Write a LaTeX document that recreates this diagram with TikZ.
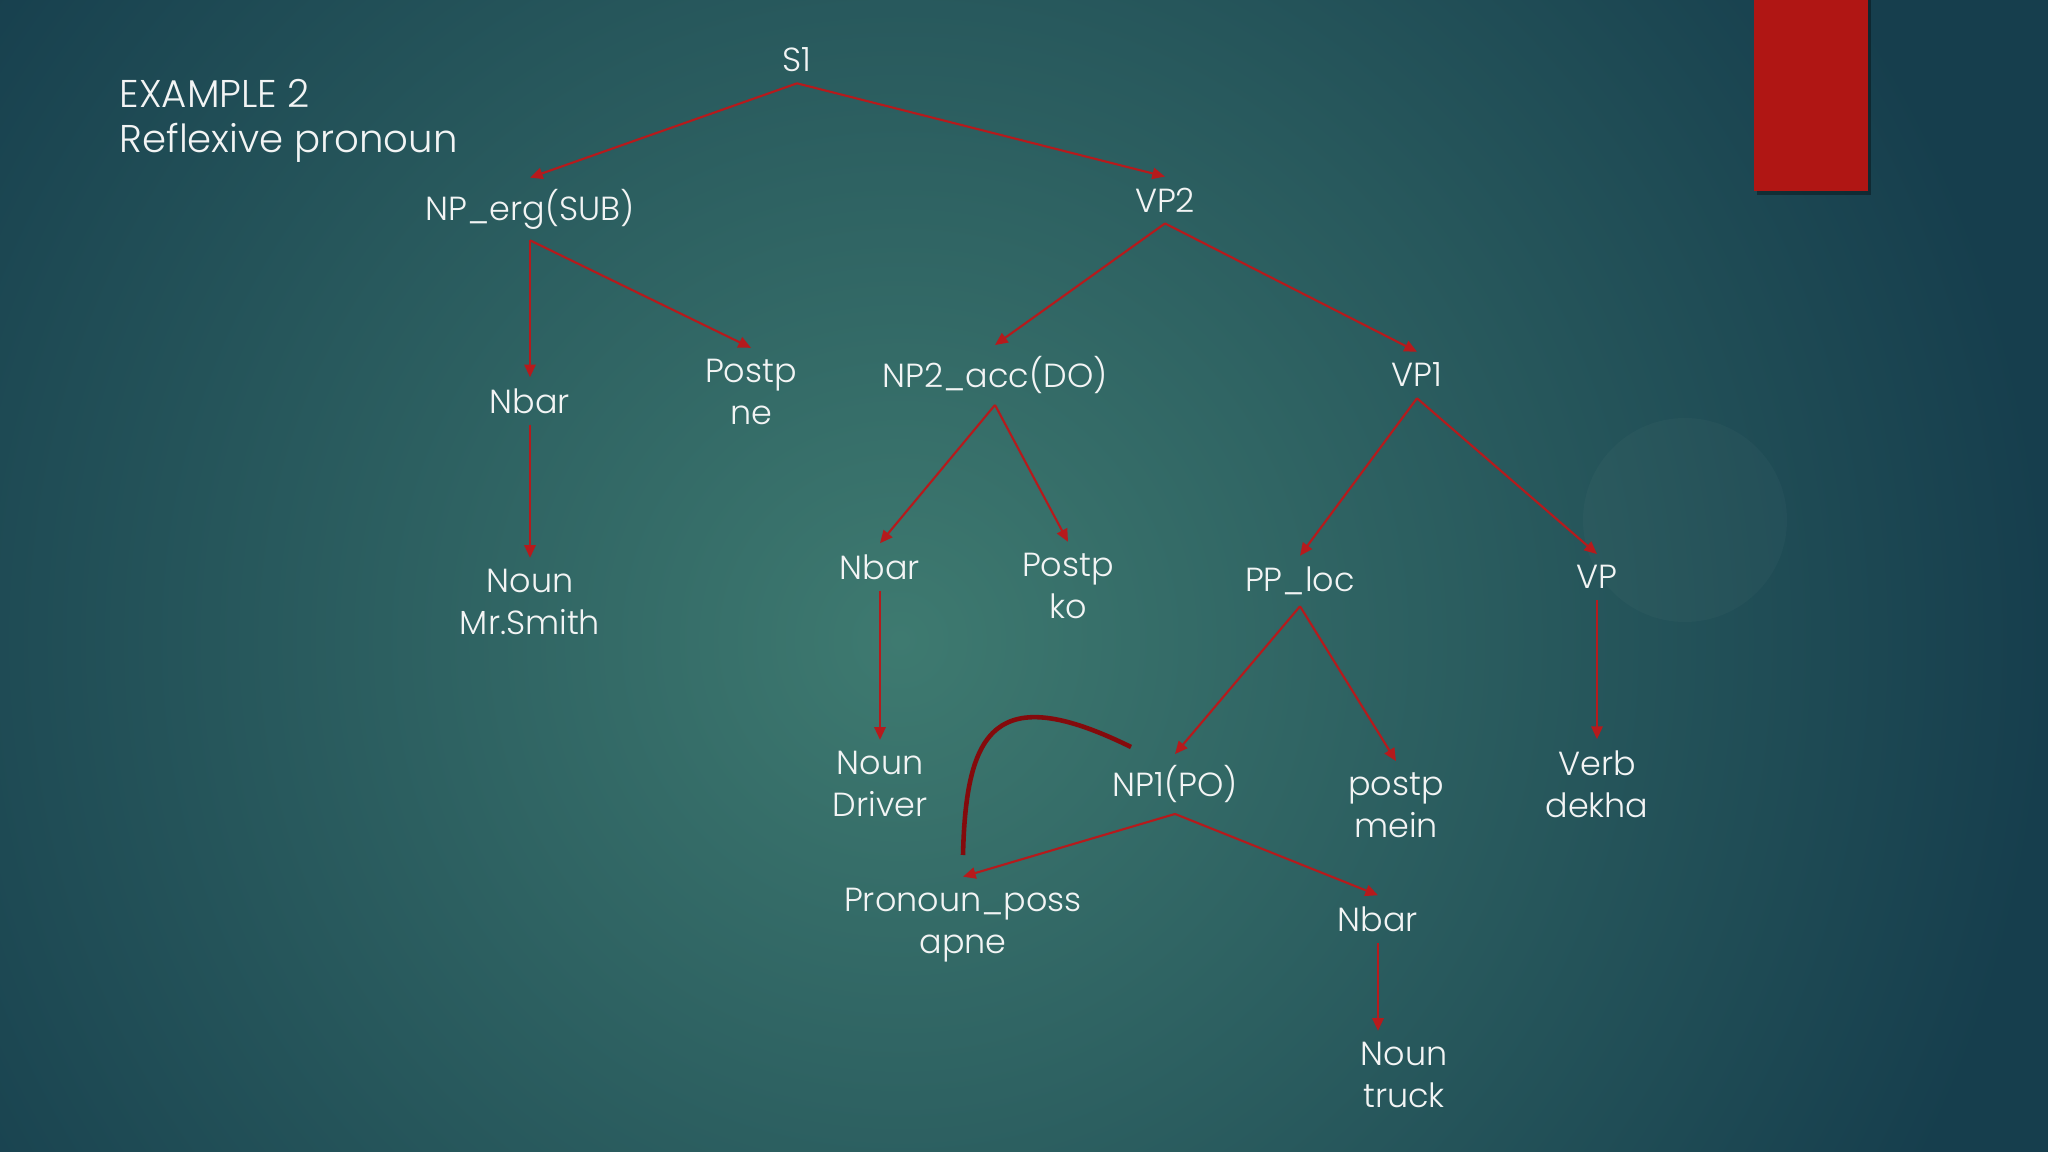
\documentclass[tikz,border=0pt]{standalone}
\usepackage{fontspec}
\setmainfont{Poppins Light}
\usetikzlibrary{arrows.meta}

\definecolor{bgdark}{RGB}{22,62,77}
\definecolor{bglight}{RGB}{62,122,112}
\definecolor{treered}{RGB}{182,26,28}
\definecolor{linkred}{RGB}{132,10,12}
\definecolor{barred}{RGB}{176,22,20}
\definecolor{lbl}{RGB}{242,244,244}

\tikzset{
    lab/.style={text=lbl, font=\fontsize{9.5}{12}\selectfont, align=center, inner sep=3pt},
    arr/.style={draw=treered, line width=0.6pt, -{Triangle[length=3.6pt,width=3.2pt]}}
}

\begin{document}
\begin{tikzpicture}[x=0.01cm, y=-0.01cm]
    \useasboundingbox (0,0) rectangle (2048,1152);
    % background
    \fill[bgdark] (0,0) rectangle (2048,1152);
    \begin{scope}
    \clip (0,0) rectangle (2048,1152);
    \shade[inner color=bglight, outer color=bgdark] (900,640) circle (1150);
    \fill[white, opacity=0.025] (1685,520) circle (102);
    \end{scope}
    \fill[black, opacity=0.35] (1757,0) rectangle (1871,195);
    \fill[barred] (1754,0) rectangle (1868,191);

    \node[lab, anchor=west, font=\fontsize{11}{13}\selectfont, align=left, inner sep=0pt] (title) at (119,121) {EXAMPLE 2\\Reflexive pronoun};

    % tree
    \node[lab] (s1)    at (797,60)   {S1};
    \node[lab] (nperg) at (530,209)  {NP\_erg(SUB)};
    \node[lab] (vp2)   at (1165,200) {VP2};
    \node[lab] (nbara) at (530,401)  {Nbar};
    \node[lab] (postne) at (751,392) {Postp\\ne};
    \node[lab] (npacc) at (995,375)  {NP2\_acc(DO)};
    \node[lab] (vp1)   at (1417,375) {VP1};
    \node[lab] (smith) at (530,602)  {Noun\\Mr.Smith};
    \node[lab] (nbarb) at (880,567)  {Nbar};
    \node[lab] (postko) at (1068,586) {Postp\\ko};
    \node[lab] (pploc) at (1300,581) {PP\_loc};
    \node[lab] (vp)    at (1597,577) {VP};
    \node[lab] (driver) at (880,784) {Noun\\Driver};
    \node[lab] (npone) at (1175,784) {NP1(PO)};
    \node[lab] (mein)  at (1396,805) {postp\\mein};
    \node[lab] (dekha) at (1597,784) {Verb\\dekha};
    \node[lab] (apne)  at (963,925)  {Pronoun\_poss\\apne};
    \node[lab] (nbarc) at (1378,919) {Nbar};
    \node[lab] (truck) at (1404,1075) {Noun\\truck};

    \draw[arr] (s1.south) -- (nperg.north);
    \draw[arr] (s1.south) -- (vp2.north);
    \draw[arr] (nperg.south) -- (nbara.north);
    \draw[arr] (nperg.south) -- (postne.north);
    \draw[arr] (vp2.south) -- (npacc.north);
    \draw[arr] (vp2.south) -- (vp1.north);
    \draw[arr] (nbara.south) -- (smith.north);
    \draw[arr] (npacc.south) -- (nbarb.north);
    \draw[arr] (npacc.south) -- (postko.north);
    \draw[arr] (vp1.south) -- (pploc.north);
    \draw[arr] (vp1.south) -- (vp.north);
    \draw[arr] (nbarb.south) -- (driver.north);
    \draw[arr] (pploc.south) -- (npone.north);
    \draw[arr] (pploc.south) -- (mein.north);
    \draw[arr] (vp.south) -- (dekha.north);
    \draw[arr] (npone.south) -- (apne.north);
    \draw[arr] (npone.south) -- (nbarc.north);
    \draw[arr] (nbarc.south) -- (nbarc.south |- truck.north);

    % binding link
    \coordinate (linka) at (963,855);
    \coordinate (linkb) at (1131,747);
    \draw[linkred, line width=1.3pt] (linka) .. controls (966,730) and (995,680) .. (linkb);
\end{tikzpicture}
\end{document}
